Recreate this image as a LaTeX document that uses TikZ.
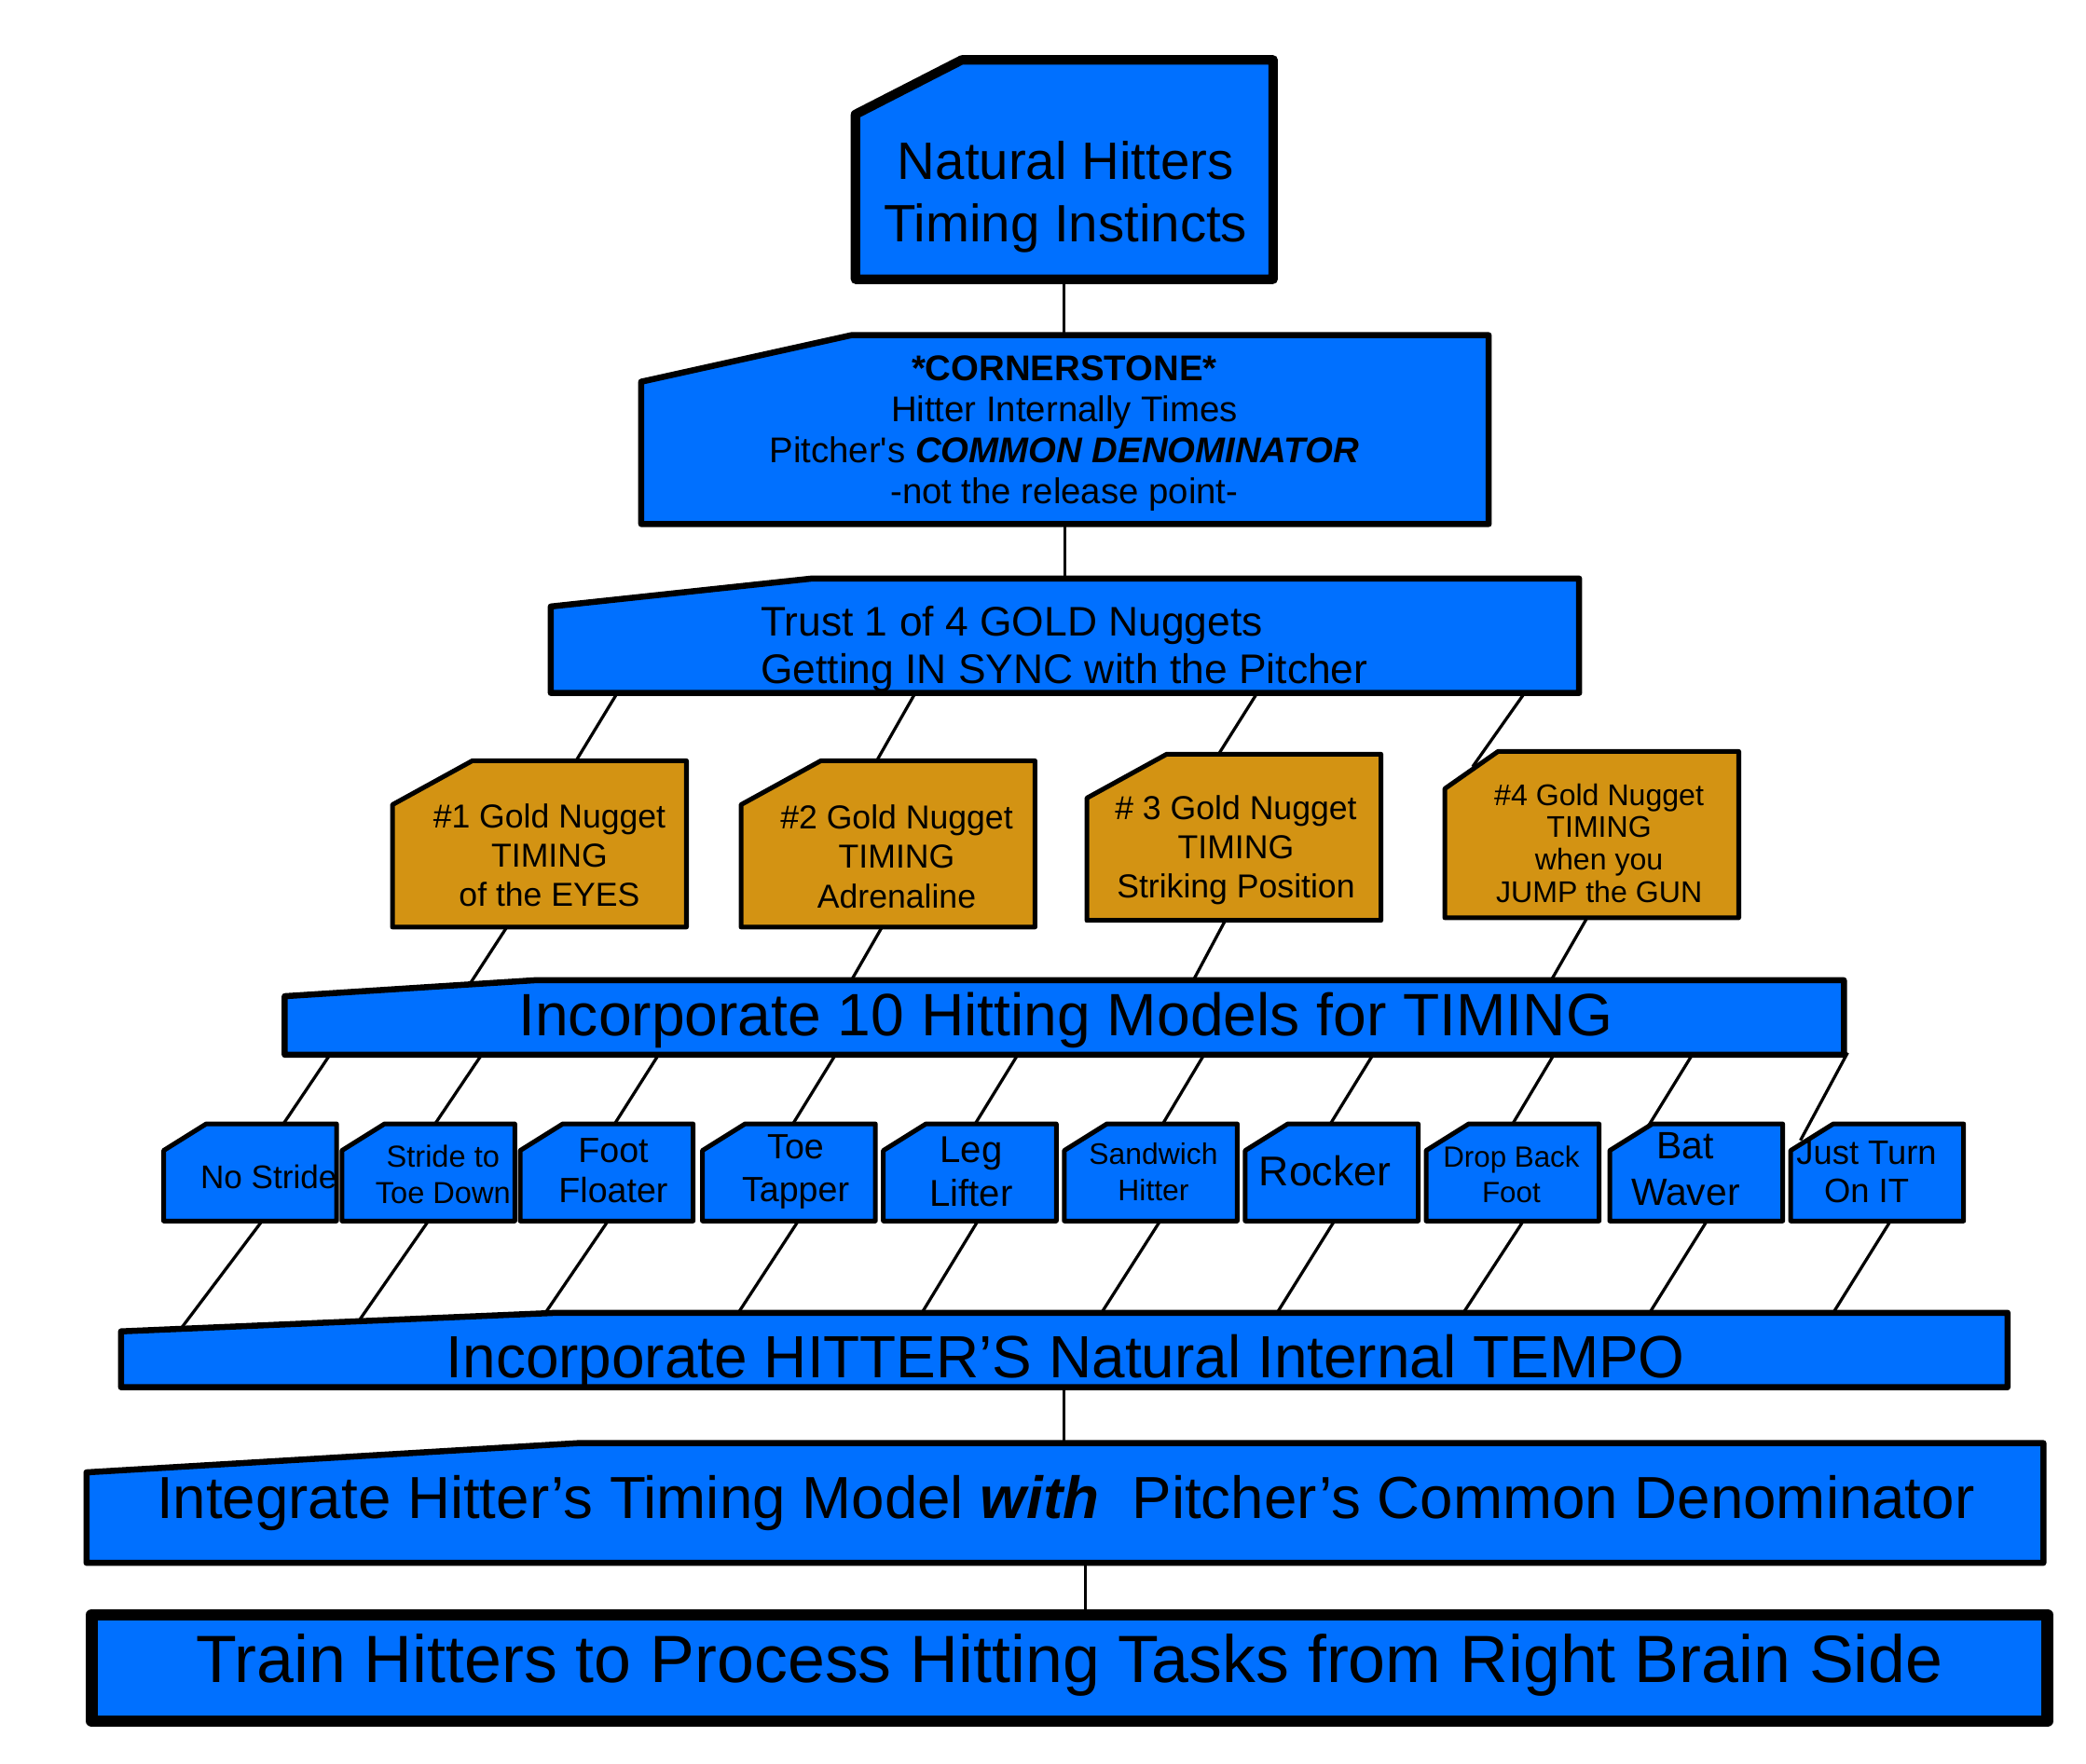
\documentclass[tikz,border=0pt]{standalone}
\usepackage{fontspec}
\setmainfont{Liberation Sans}
\usepackage{xcolor}
\definecolor{boxblue}{HTML}{0070FF}
\definecolor{nugget}{HTML}{D39313}
\newcommand{\pxu}{0.02cm}

\tikzset{
  box/.style={rectangle, inner sep=0pt, outer sep=0pt, anchor=north west},
  sz/.style 2 args={minimum width=#1*\pxu, minimum height=#2*\pxu},
  link/.style={line width=1.3pt, shorten <=-1pt, shorten >=-8pt},
  stem/.style={line width=1.2pt},
  outline/.style={draw=black, line join=round},
  txt/.style={align=center, inner sep=0pt},
  fs/.style 2 args={font=\fontsize{#1}{#2}\selectfont},
}

\begin{document}
\begin{tikzpicture}[x=0.02cm, y=-0.02cm]
  \useasboundingbox (0,0) rectangle (1568,1326);

  % box frames
  \node[box, sz={314}{165}] (natural) at (643,45) {};
  \node[box, sz={637}{142}] (corner) at (482,252) {};
  \node[box, sz={773}{86}] (trust) at (414,435) {};
  \foreach \i/\x/\y in {1/295/572, 2/557/572, 3/817/567, 4/1086/565}
    \node[box, sz={221}{125}] (nug\i) at (\x,\y) {};
  \node[box, sz={1172}{56}] (models) at (214,737) {};
  \foreach \i/\x in {1/123, 2/257, 3/391, 4/528, 5/664, 6/800, 7/936, 8/1072, 9/1210, 10/1346}
    \node[box, sz={130}{73}] (m\i) at (\x,845) {};
  \node[box, sz={1418}{56}] (tempo) at (91,987) {};
  \node[box, sz={1471}{90}] (integrate) at (65,1085) {};
  \node[box, sz={1470}{80}] (train) at (69,1214) {};

  % connectors
  \draw[stem] (natural.south) -- (natural.south |- corner.north);
  \draw[stem] (corner.south) -- (corner.south |- trust.north);
  \foreach \i/\a/\b in {1/50/138, 2/274/102, 3/531/99, 4/732/29}
    \draw[link] ([xshift=\a*\pxu]trust.south west) -- ([xshift=\b*\pxu]nug\i.north west);
  \foreach \i/\a/\b in {1/86/141, 2/106/426, 3/104/683, 4/107/952}
    \draw[link] ([xshift=\a*\pxu]nug\i.south west) -- ([xshift=\b*\pxu]models.north west);
  \foreach \i/\a/\b in {1/34/90, 2/148/70, 3/281/71, 4/414/68, 5/551/69,
                        6/691/74, 7/818/64, 8/954/65, 9/1058/30, 10/1174/14}
    \draw[link] ([xshift=\a*\pxu]models.south west) -- ([xshift=\b*\pxu]m\i.north west);
  \foreach \i/\a/\b in {1/74/54, 2/65/183, 3/66/319, 4/72/464, 5/71/602,
                        6/72/737, 7/67/869, 8/73/1009, 9/73/1149, 10/75/1287}
    \draw[link] ([xshift=\a*\pxu]m\i.south west) -- ([xshift=\b*\pxu]tempo.north west);
  \draw[stem] (tempo.south) -- (tempo.south |- integrate.north);
  \draw[stem] ([xshift=15.5*\pxu]integrate.south) -- ([xshift=15.5*\pxu]integrate.south |- train.north);

  % cut-corner outlines
  \foreach \n/\cx/\cy/\c/\w in {natural/80/41/boxblue/4pt, corner/158/35/boxblue/2.6pt,
      trust/196/21/boxblue/2.6pt, nug1/60/33/nugget/2pt, nug2/60/33/nugget/2pt,
      nug3/60/33/nugget/2pt, nug4/40/28/nugget/2pt, models/188/12/boxblue/2.6pt,
      tempo/328/14/boxblue/2.6pt, integrate/370/22/boxblue/2.6pt}
    \draw[outline, fill=\c, line width=\w] (\n.south west) -- ([yshift=-\cy*\pxu]\n.north west)
      -- ([xshift=\cx*\pxu]\n.north west) -- (\n.north east) -- (\n.south east) -- cycle;
  \foreach \i in {1,...,10}
    \draw[outline, fill=boxblue, line width=2pt] (m\i.south west) -- ([yshift=-20*\pxu]m\i.north west)
      -- ([xshift=32*\pxu]m\i.north west) -- (m\i.north east) -- (m\i.south east) -- cycle;
  \draw[outline, fill=boxblue, line width=5pt] (train.south west) rectangle (train.north east);

  % texts
  \node[txt, fs={22.5}{26.5}] (naturaltxt) at (801,148) {Natural Hitters\\Timing Instincts};
  \node[txt, fs={15.3}{17.6}] (cornertxt) at (800,326)
    {\textbf{*CORNERSTONE*}\\Hitter Internally Times\\Pitcher\textquotesingle s \textbf{\textit{COMMON DENOMINATOR}}\\-not the release point-};
  \node[txt, align=left, fs={17.7}{20}] (trusttxt) at (800,488)
    {Trust 1 of 4 GOLD Nuggets\\Getting IN SYNC with the Pitcher};
  \node[txt, fs={14.2}{16.8}] (nug1txt) at (413,643) {\#1 Gold Nugget\\TIMING\\of the EYES};
  \node[txt, fs={14.2}{16.8}] (nug2txt) at (674,644) {\#2 Gold Nugget\\TIMING\\Adrenaline};
  \node[txt, fs={14.2}{16.8}] (nug3txt) at (929,639) {\# 3 Gold Nugget\\TIMING\\Striking Position};
  \node[txt, fs={12.8}{13.9}] (nug4txt) at (1202,634) {\#4 Gold Nugget\\TIMING\\when you\\JUMP the GUN};
  \node[txt, fs={25.6}{28}] (modelstxt) at (801,767) {Incorporate 10 Hitting Models for TIMING};
  \node[txt, fs={14}{16}] (m1txt) at (202,885) {No Stride};
  \node[txt, fs={13}{15.4}] (m2txt) at (333,883) {Stride to\\Toe Down};
  \node[txt, fs={15}{17}] (m3txt) at (461,880) {Foot\\Floater};
  \node[txt, fs={15}{18}] (m4txt) at (598,881) {Toe\\Tapper};
  \node[txt, fs={16}{18.8}] (m5txt) at (730,881) {Leg\\Lifter};
  \node[txt, fs={12.7}{15.4}] (m6txt) at (867,881) {Sandwich\\Hitter};
  \node[txt, fs={17.8}{20}] (m7txt) at (996,880) {Rocker};
  \node[txt, fs={12.5}{15.4}] (m8txt) at (1136,883) {Drop Back\\Foot};
  \node[txt, fs={16.3}{20}] (m9txt) at (1267,879) {Bat\\Waver};
  \node[txt, fs={14.5}{16.5}] (m10txt) at (1403,881) {Just Turn\\On IT};
  \node[txt, fs={25.5}{28}] (tempotxt) at (801,1024) {Incorporate HITTER’S Natural Internal TEMPO};
  \node[txt, fs={25.4}{28}] (integratetxt) at (801,1130)
    {Integrate Hitter’s Timing Model \textbf{\textit{with}}\ \ Pitcher’s Common Denominator};
  \node[txt, fs={28.6}{31}] (traintxt) at (804,1252) {Train Hitters to Process Hitting Tasks from Right Brain Side};
\end{tikzpicture}
\end{document}
